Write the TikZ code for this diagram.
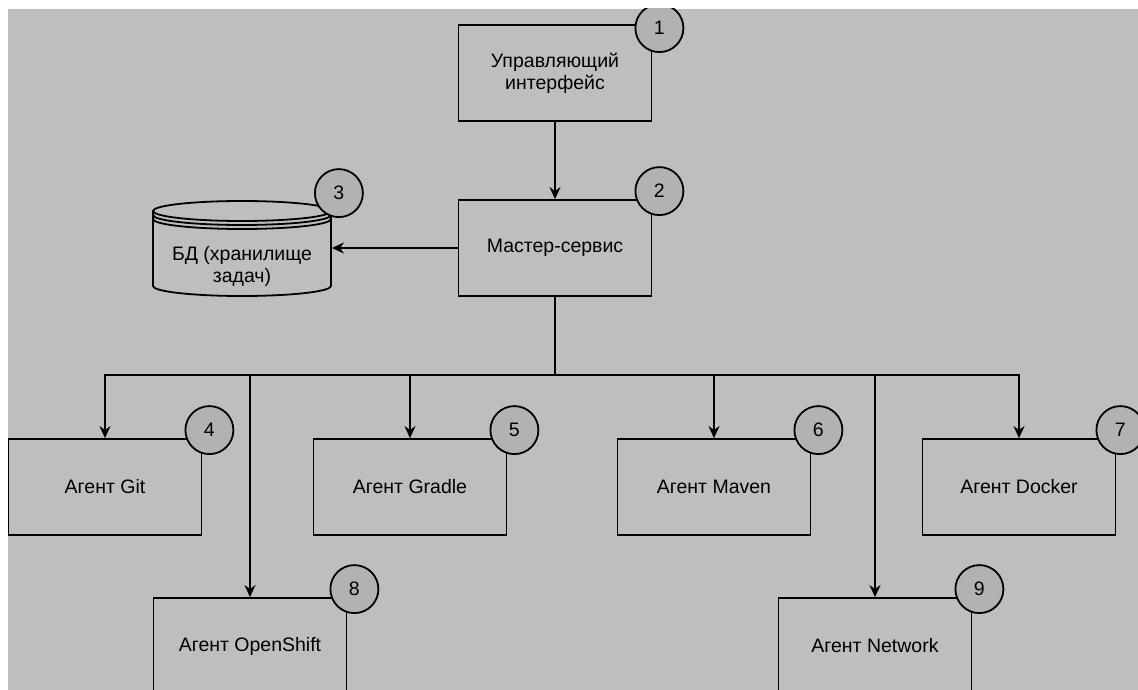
\documentclass[tikz,border=0pt]{standalone}
\usepackage{fontspec}
\setmainfont{Liberation Sans}
\usepackage{xcolor}
\usetikzlibrary{
    arrows.meta,
    positioning
}

\definecolor{bgc}{RGB}{190,190,190}
\definecolor{badgec}{RGB}{178,178,178}

\begin{document}
\begin{tikzpicture}[
    x=1pt,
    y=-1pt,
    >={Stealth[length=12pt,width=11pt]},
    line width=1.8pt,
    every node/.style={font=\fontsize{19.5}{22}\selectfont},
    block/.style={
        draw=black,
        fill=bgc,
        minimum width=193pt,
        minimum height=96pt,
        inner sep=0pt,
        align=center
    },
    badge/.style={
        circle,
        draw=black,
        fill=badgec,
        minimum size=48pt,
        inner sep=0pt
    }
]

% ============================================================
% CANVAS
% ============================================================

\useasboundingbox (0,0) rectangle (1138,690);
\fill[white] (0,0) rectangle (1138,690);
\fill[bgc] (8,9) rectangle (1138,690);
\clip (8,9) rectangle (1138,690);

% ============================================================
% CONTROL AND MASTER
% ============================================================

\node[block] (ui) at (555,73) {Управляющий\\интерфейс};
\node[badge] (n1) at ([shift={(7,4)}]ui.north east) {1};

\node[block] (master) at (555,248) {Мастер-сервис};
\node[badge] (n2) at ([shift={(7,-8)}]master.north east) {2};

\draw[->] (ui) -- (master);

% ============================================================
% DATABASE
% ============================================================

\node[
    minimum width=178pt,
    minimum height=96pt,
    inner sep=0pt
]
    (db) at (242,248) {};

% Cylinder body
\draw[fill=bgc]
    (153,211) -- (153,286)
    arc[start angle=180, end angle=0, x radius=89, y radius=10]
    -- (331,211);

\draw[fill=bgc]
    (242,211) ellipse [x radius=89, y radius=10];

\draw (153,215) arc[start angle=180, end angle=0, x radius=89, y radius=10];
\draw (153,219) arc[start angle=180, end angle=0, x radius=89, y radius=10];

\node[align=center] (dblabel) at (242,266) {БД (хранилище\\задач)};
\node[badge] (n3) at ([shift={(7,-6)}]db.north east) {3};

\draw[->] (master) -- (db);

% ============================================================
% AGENTS
% ============================================================

\node[block] (git) at (105,487) {Агент Git};
\node[block] (gradle) at (410,487) {Агент Gradle};
\node[block] (maven) at (714,487) {Агент Maven};
\node[block] (docker) at (1019,487) {Агент Docker};
\node[block] (openshift) at (250,646) {Агент OpenShift};
\node[block] (network) at (875,646) {Агент Network};

\node[badge] (n4) at ([shift={(7,-8)}]git.north east) {4};
\node[badge] (n5) at ([shift={(7,-8)}]gradle.north east) {5};
\node[badge] (n6) at ([shift={(7,-8)}]maven.north east) {6};
\node[badge] (n7) at ([shift={(4,-8)}]docker.north east) {7};
\node[badge] (n8) at ([shift={(7,-8)}]openshift.north east) {8};
\node[badge] (n9) at ([shift={(7,-8)}]network.north east) {9};

% Distribution bus
\coordinate (bus) at (555,375);

\foreach \agent in {git,gradle,maven,docker,openshift,network}
    \draw[->]
        (master.south) -- (bus) -| (\agent.north);

\end{tikzpicture}
\end{document}
